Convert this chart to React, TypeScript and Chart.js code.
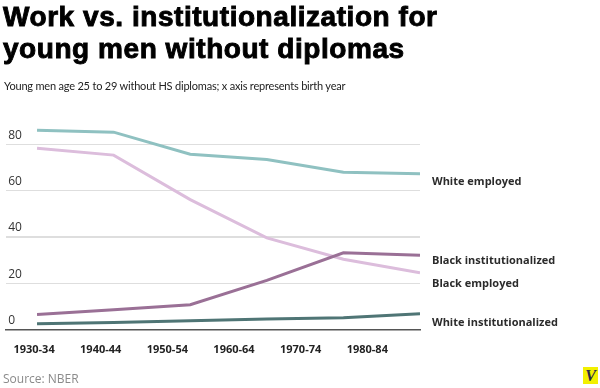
import React, { useEffect, useRef } from "react";
import { Chart, registerables } from "chart.js";

Chart.register(...registerables);

// ---- data ----
const categories = ["1930-34", "1940-44", "1950-54", "1960-64", "1970-74", "1980-84"];
const whiteEmployed = [86.0, 85.2, 75.7, 73.4, 67.9, 67.3];
const blackInstitutionalized = [6.6, 8.6, 10.8, 21.3, 33.2, 32.1];
const blackEmployed = [78.3, 75.3, 56.1, 39.6, 30.4, 24.6];
const whiteInstitutionalized = [2.6, 3.1, 3.9, 4.7, 5.2, 6.9];
const seriesNames = ["White employed", "Black institutionalized", "Black employed", "White institutionalized"];
const yTicks = [0, 20, 40, 60, 80];

const seriesValues = [whiteEmployed, blackInstitutionalized, blackEmployed, whiteInstitutionalized];
const seriesColors = ["#8fc1c1", "#9a7096", "#dcbddc", "#4f7575"];
const endLabelShift = [8.5, 5.5, 11, 9];

const FONT = "'Open Sans', 'Liberation Sans', sans-serif";

const endLabels = {
  id: "endLabels",
  afterDatasetsDraw(chart: any) {
    const ctx = chart.ctx;
    ctx.save();
    ctx.font = `bold 11px ${FONT}`;
    ctx.fillStyle = "#2b2b2b";
    ctx.textBaseline = "middle";
    ctx.textAlign = "left";
    chart.data.datasets.forEach((ds: any, i: number) => {
      const meta = chart.getDatasetMeta(i);
      const last = meta.data[meta.data.length - 1];
      if (!last) return;
      ctx.fillText(ds.label, last.x + 12, last.y + endLabelShift[i]);
    });
    ctx.restore();
  },
};

export default function App() {
  const ref = useRef<HTMLCanvasElement | null>(null);

  useEffect(() => {
    if (!ref.current) return;
    const chart = new Chart(ref.current, {
      type: "line",
      data: {
        datasets: seriesValues.map((vals, i) => ({
          label: seriesNames[i],
          data: vals.map((v, j) => ({ x: j, y: v })),
          borderColor: seriesColors[i],
          backgroundColor: seriesColors[i],
          borderWidth: 3,
          pointRadius: 0,
          tension: 0,
          fill: false,
          xAxisID: "x",
          yAxisID: "y",
        })),
      },
      options: {
        animation: false,
        responsive: false,
        devicePixelRatio: 1,
        layout: { padding: { left: 0, right: 180, top: 121, bottom: 19 } },
        plugins: { legend: { display: false }, tooltip: { enabled: false }, title: { display: false } },
        scales: {
          x: {
            type: "linear",
            display: false,
            min: -0.4026,
            max: 5,
          },
          x2: {
            type: "linear",
            position: "bottom",
            min: -0.418,
            max: 5.791,
            afterBuildTicks: (axis: any) => {
              axis.ticks = categories.map((_, i) => ({ value: i }));
            },
            grid: { display: false, drawTicks: false },
            border: { display: true, color: "#555", width: 1.5 },
            ticks: {
              autoSkip: false,
              maxRotation: 0,
              padding: 13,
              color: "#222",
              font: { family: FONT, size: 11, weight: "bold" },
              callback: (v: any) => categories[v as number] ?? "",
            },
          },
          y: {
            type: "linear",
            min: 0,
            max: 90,
            afterBuildTicks: (axis: any) => {
              axis.ticks = yTicks.map((v) => ({ value: v }));
            },
            grid: {
              drawTicks: false,
              color: "#dedede",
              lineWidth: (c: any) => (c.tick && c.tick.value === 40 ? 2 : 1),
            },
            border: { display: false },
            ticks: {
              mirror: true,
              padding: 2,
              labelOffset: -9,
              color: "#333",
              font: { family: FONT, size: 12 },
            },
          },
        },
      },
      plugins: [endLabels],
    } as any);
    return () => chart.destroy();
  }, []);

  return (
    <div style={{ position: "fixed", left: 0, top: 0, width: 600, height: 388, background: "#fff", overflow: "hidden" }}>
      <canvas ref={ref} width={600} height={388} style={{ position: "absolute", left: 0, top: 0, width: 600, height: 388 }} />
      <div
        style={{
          position: "absolute",
          left: 3,
          top: 1,
          fontFamily: "'Liberation Sans', Arial, sans-serif",
          fontWeight: 900,
          fontSize: 28,
          lineHeight: "31.5px",
          color: "#000",
          WebkitTextStroke: "0.9px #000",
          letterSpacing: "0.55px",
          whiteSpace: "nowrap",
        }}
      >
        Work vs. institutionalization for
        <br />
        young men without diplomas
      </div>
      <div
        style={{
          position: "absolute",
          left: 4,
          top: 78.5,
          fontFamily: "Lato, 'Open Sans', sans-serif",
          fontSize: 11,
          letterSpacing: "-0.2px",
          color: "#222",
          whiteSpace: "nowrap",
        }}
      >
        Young men age 25 to 29 without HS diplomas; x axis represents birth year
      </div>
      <div
        style={{
          position: "absolute",
          left: 3,
          top: 370,
          fontFamily: FONT,
          fontSize: 12,
          color: "#8a8a8a",
          whiteSpace: "nowrap",
        }}
      >
        Source: NBER
      </div>
      <div
        style={{
          position: "absolute",
          left: 583,
          top: 367,
          width: 15,
          height: 17,
          background: "#f2f000",
          color: "#2a2a48",
          fontFamily: "'Liberation Serif', serif",
          fontStyle: "italic",
          fontWeight: "bold",
          fontSize: 16,
          lineHeight: "17px",
          textAlign: "center",
        }}
      >
        V
      </div>
    </div>
  );
}
